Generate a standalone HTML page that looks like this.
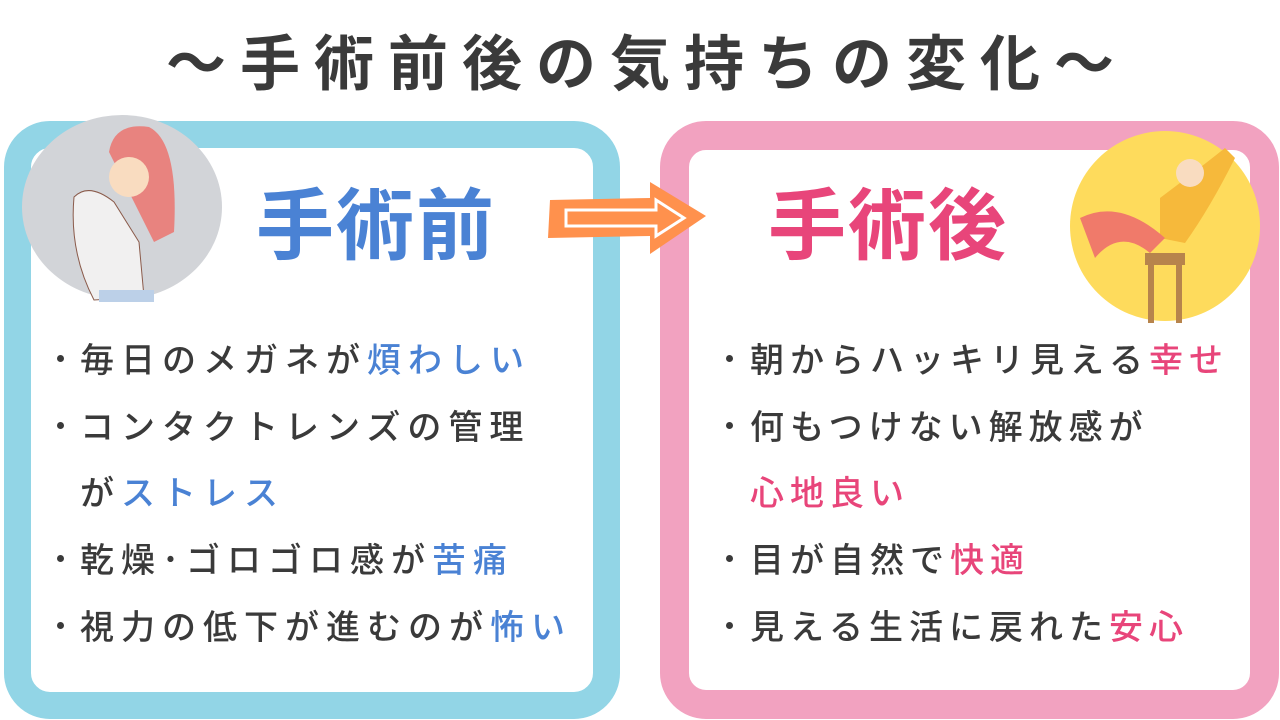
<!DOCTYPE html>
<html><head><meta charset="utf-8"><style>
body{margin:0;width:1280px;height:720px;background:#fff;position:relative;overflow:hidden;font-family:"Liberation Sans","Noto Sans CJK JP",sans-serif}
.t{position:absolute;white-space:nowrap}
.panel{position:absolute;box-sizing:border-box;border-radius:44px}
.li{position:absolute;font-size:34px;color:#3a3a3a;letter-spacing:6px;font-weight:500;white-space:nowrap}
.d{position:absolute;width:7px;height:7px;border-radius:50%;background:#3a3a3a}
.b{color:#4a82d4}.p{color:#e8457a}
</style></head><body>
<div class="t" style="left:0;width:1280px;text-align:center;top:16px;font-size:60px;font-weight:bold;color:#3a3a3a;letter-spacing:14px;padding-left:14px;box-sizing:border-box">〜手術前後の気持ちの変化〜</div>

<div class="panel" style="left:4px;top:121px;width:616px;height:598px;border:27px solid #92d5e6;border-radius:46px"></div>
<div class="panel" style="left:660px;top:121px;width:619px;height:598px;border:29px solid #f2a2c0;border-radius:46px"></div>

<svg style="position:absolute;left:14px;top:112px" width="220" height="190">
<ellipse cx="108" cy="95" rx="100" ry="92" fill="#d2d4d8"/>
<path d="M95 40 Q100 10 135 15 Q165 30 160 120 L140 130 Z" fill="#e8837f"/>
<path d="M60 85 Q75 70 100 90 L125 130 L130 185 L80 188 Q55 140 60 85Z" fill="#f1f0f0" stroke="#8a5a4a" stroke-width="1"/>
<circle cx="115" cy="65" r="20" fill="#f9dcc0"/>
<rect x="85" y="178" width="55" height="12" fill="#bcd0e8"/>
</svg>
<div class="t" style="left:256px;top:164px;font-size:78px;font-weight:bold;color:#4a82d4;letter-spacing:2px">手術前</div>

<svg style="position:absolute;left:546px;top:178px" width="172" height="80">
<polygon points="4,22 104,20 104,4 160,38 104,76 104,58 2,60" fill="#ff914d"/>
<polygon points="20,32 110,32 110,22 138,40 110,58 110,48 20,48" fill="none" stroke="#fff" stroke-width="3"/>
</svg>

<svg style="position:absolute;left:1050px;top:108px" width="230" height="220">
<circle cx="115" cy="118" r="95" fill="#fedb5c"/>
<rect x="95" y="145" width="40" height="12" fill="#b7844c"/>
<rect x="98" y="155" width="6" height="60" fill="#b7844c"/><rect x="126" y="155" width="6" height="60" fill="#b7844c"/>
<path d="M110 90 Q150 60 175 40 L185 50 Q160 100 135 135 L110 130Z" fill="#f6b93b"/>
<path d="M30 110 Q70 90 115 130 L100 145 Q70 120 45 150Z" fill="#f07a6a"/>
<circle cx="140" cy="65" r="14" fill="#f9dcc0"/>
</svg>
<div class="t" style="left:768px;top:164px;font-size:78px;font-weight:bold;color:#e8457a;letter-spacing:2px">手術後</div>

<div class="d" style="left:57px;top:355px"></div>
<div class="li" style="left:80px;top:333px;letter-spacing:7px">毎日のメガネが<span class="b">煩わしい</span></div>
<div class="d" style="left:57px;top:422px"></div>
<div class="li" style="left:80px;top:400px;letter-spacing:7px">コンタクトレンズの管理</div>
<div class="li" style="left:80px;top:466px;letter-spacing:7px">が<span class="b">ストレス</span></div>
<div class="d" style="left:57px;top:555px"></div>
<div class="li" style="left:80px;top:533px;letter-spacing:7px">乾燥･ゴロゴロ感が<span class="b">苦痛</span></div>
<div class="d" style="left:57px;top:622px"></div>
<div class="li" style="left:80px;top:600px;letter-spacing:7px">視力の低下が進むのが<span class="b">怖い</span></div>

<div class="d" style="left:726px;top:355px"></div>
<div class="li" style="left:750px;top:333px">朝からハッキリ見える<span class="p">幸せ</span></div>
<div class="d" style="left:726px;top:422px"></div>
<div class="li" style="left:750px;top:400px">何もつけない解放感が</div>
<div class="li" style="left:750px;top:466px"><span class="p">心地良い</span></div>
<div class="d" style="left:726px;top:555px"></div>
<div class="li" style="left:750px;top:533px">目が自然で<span class="p">快適</span></div>
<div class="d" style="left:726px;top:622px"></div>
<div class="li" style="left:750px;top:600px">見える生活に戻れた<span class="p">安心</span></div>
</body></html>
